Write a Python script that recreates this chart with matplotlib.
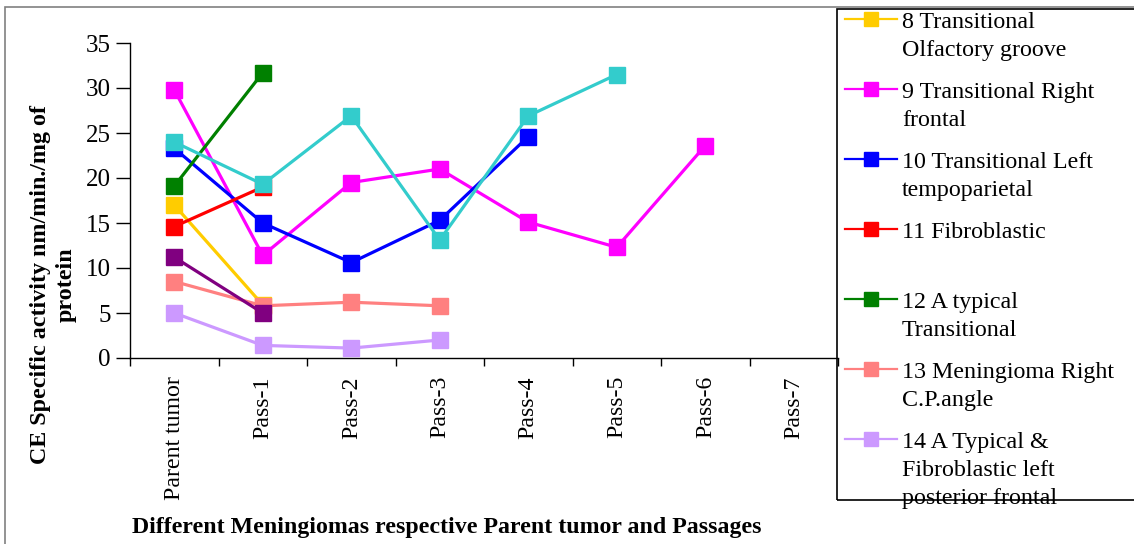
import matplotlib
matplotlib.use("Agg")
import matplotlib.pyplot as plt
from matplotlib.lines import Line2D
from matplotlib.patches import Rectangle

categories = ["Parent tumor", "Pass-1", "Pass-2", "Pass-3", "Pass-4", "Pass-5", "Pass-6", "Pass-7"]

s8_olfactory = [17.0, 5.9]
s9_right_frontal = [29.8, 11.4, 19.5, 21.0, 15.1, 12.3, 23.6]
s10_left_tempoparietal = [23.3, 15.0, 10.6, 15.3, 24.6]
s11_fibroblastic = [14.6, 19.0]
s12_atypical = [19.1, 31.7]
s13_cp_angle = [8.5, 5.8, 6.2, 5.8]
s14_posterior_frontal = [5.0, 1.4, 1.1, 2.0]
s_cyan = [24.0, 19.3, 26.9, 13.1, 26.9, 31.5]
s_purple = [11.2, 5.0]

legend_labels = ["8 Transitional\nOlfactory groove",
                 "9 Transitional Right\nfrontal",
                 "10 Transitional Left\ntempoparietal",
                 "11 Fibroblastic",
                 "12 A typical\nTransitional",
                 "13 Meningioma Right\nC.P.angle",
                 "14 A Typical &\nFibroblastic left\nposterior frontal"]

yticks = [0, 5, 10, 15, 20, 25, 30, 35]

series = [
    (s8_olfactory, "#FFCC00"),
    (s9_right_frontal, "#FF00FF"),
    (s10_left_tempoparietal, "#0000FF"),
    (s11_fibroblastic, "#FF0000"),
    (s12_atypical, "#008000"),
    (s13_cp_angle, "#FF8080"),
    (s14_posterior_frontal, "#CC99FF"),
]
extra = [(s_cyan, "#33CCCC"), (s_purple, "#800080")]

W, H = 1134, 544
fig = plt.figure(figsize=(W / 100, H / 100), dpi=100)
plt.rcParams['font.family'] = ['Liberation Serif', 'DejaVu Serif']

def fx(px):
    return px / W

def fy(py):
    return 1 - py / H

ax = fig.add_axes([fx(130), fy(358), fx(838) - fx(130), fy(43) - fy(358)])

for vals, col in series + extra:
    ax.plot(range(len(vals)), vals, color=col, lw=2.3, marker='s', ms=11,
            mec=col, mfc=col, clip_on=False, zorder=3)

ax.set_xlim(-0.5, 7.5)
ax.set_ylim(0, 35)
ax.set_yticks(yticks)
ax.set_yticklabels([str(v) for v in yticks], fontsize=18)
ax.set_xticks(range(len(categories)))
ax.set_xticklabels(categories, rotation=90, fontsize=17.2, va='top')
ax.set_xticks([i - 0.5 for i in range(len(categories) + 1)], minor=True)
ax.tick_params(axis='x', which='major', length=0, pad=13)
ax.tick_params(axis='x', which='minor', length=6, width=1, direction='out')
ax.tick_params(axis='y', which='major', length=10, width=1, pad=4)
for s in ['top', 'right']:
    ax.spines[s].set_visible(False)
for s in ['left', 'bottom']:
    ax.spines[s].set_linewidth(1)

fig.text(fx(53), fy(285), "CE Specific activity nm/min./mg of\nprotein",
         rotation=90, ha='center', va='center', fontsize=17.3, fontweight='bold',
         multialignment='center', linespacing=1.3)
fig.text(fx(447), fy(528), "Different Meningiomas respective Parent tumor and Passages",
         ha='center', va='center', fontsize=17.2, fontweight='bold')

# outer frame
fig.patches.append(Rectangle((fx(5), fy(560)), fx(1200) - fx(5), fy(7) - fy(560),
                             transform=fig.transFigure, fill=False, ec='#808080', lw=1.2))
# legend box
fig.patches.append(Rectangle((fx(837), fy(500)), fx(1200) - fx(837), fy(9) - fy(500),
                             transform=fig.transFigure, fill=False, ec='black', lw=1.2,
                             zorder=5))

for i, ((vals, col), lab) in enumerate(zip(series, legend_labels)):
    yh = 19 + 70 * i
    fig.add_artist(Line2D([fx(845), fx(897)], [fy(yh), fy(yh)], color=col, lw=1.6,
                          transform=fig.transFigure))
    fig.add_artist(Line2D([fx(871)], [fy(yh)], color=col, marker='s', ms=10,
                          transform=fig.transFigure))
    for j, line in enumerate(lab.split("\n")):
        fig.text(fx(902), fy(28 + 70 * i + 28 * j), line, ha='left', va='baseline',
                 fontsize=17.3)

fig.savefig("out.png", dpi=100)
